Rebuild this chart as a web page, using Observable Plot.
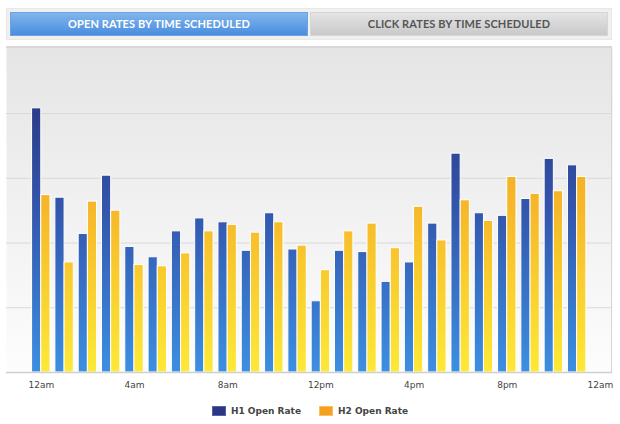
<!DOCTYPE html>
<html>
<head>
<meta charset="utf-8">
<script src="https://cdn.jsdelivr.net/npm/d3@7"></script>
<script src="https://cdn.jsdelivr.net/npm/@observablehq/plot@0.6"></script>
<style>
  html, body { margin: 0; padding: 0; background: #fff; }
  body { width: 620px; height: 424px; position: relative; overflow: hidden; font-family: "DejaVu Sans", sans-serif; }
  .tabbar { position: absolute; left: 6px; top: 8px; width: 604px; height: 30px; background: #f0f0f0; border: 1px solid #e8e8e8; }
  .tab { position: absolute; top: 12px; height: 24px; width: 298px; box-sizing: border-box; font-family: Lato, sans-serif; font-weight: 700; font-size: 11px; letter-spacing: 0.1px; line-height: 22px; text-align: center; }
  .tab.on { left: 10px; color: #fff; background: linear-gradient(#80b6ec, #4a8cdf); border: 1px solid #6aa2e4; }
  .tab.off { left: 310px; color: #555; background: linear-gradient(#e4e4e4, #c9c9c9); border: 1px solid #d6d6d6; }
  #chart { position: absolute; left: 0; top: 40px; }
  .legend { position: absolute; top: 406px; left: 0; width: 620px; display: flex; justify-content: center; gap: 18px; font-family: "DejaVu Sans", sans-serif; font-weight: bold; font-size: 9px; color: #444; }
  .legend span { display: flex; align-items: center; gap: 5px; }
  .legend i { display: inline-block; width: 12px; height: 8px; }
</style>
</head>
<body>
<div class="tabbar"></div>
<div class="tab on">OPEN RATES BY TIME SCHEDULED</div>
<div class="tab off">CLICK RATES BY TIME SCHEDULED</div>
<div id="chart"></div>
<div class="legend" id="legend"></div>
<script>
// Categories: hour of day scheduled (0 = 12am)
const hours = d3.range(0, 25);
const tickHours = [0, 4, 8, 12, 16, 20, 24];
const tickLabels = ["12am", "4am", "8am", "12pm", "4pm", "8pm", "12am"];
const seriesNames = ["H1 Open Rate", "H2 Open Rate"];
// Open rate (%) per hour
const h1Open = [20.4, 13.5, 10.7, 15.2, 9.7, 8.9, 10.9, 11.9, 11.6, 9.4, 12.3, 9.5, 5.5, 9.4, 9.3, 7.0, 8.5, 11.5, 16.9, 12.3, 12.1, 13.4, 16.5, 16.0];
const h2Open = [13.7, 8.5, 13.2, 12.5, 8.3, 8.2, 9.2, 10.9, 11.4, 10.8, 11.6, 9.8, 7.9, 10.9, 11.5, 9.6, 12.8, 10.2, 13.3, 11.7, 15.1, 13.8, 14.0, 15.1];
const yTicks = [5, 10, 15, 20];

const h1 = h1Open.map((v, i) => ({hour: i, value: v}));
const h2 = h2Open.map((v, i) => ({hour: i, value: v}));

const W = 620, H = 360, mL = 6, mR = 8, mT = 7, mB = 28;
const padIn = 0.21, padOut = 0.61;
const step = (W - mL - mR) / (hours.length - padIn + 2 * padOut);
const half = step * (1 - padIn) / 2;

const chart = Plot.plot({
  width: W, height: H,
  marginLeft: mL, marginRight: mR, marginTop: mT, marginBottom: mB,
  x: {type: "band", domain: hours, paddingInner: padIn, paddingOuter: padOut, align: 0.9, round: false, axis: null, label: null},
  y: {domain: [0, 25.1], axis: null},
  marks: [
    Plot.frame({fill: "url(#bgGrad)", stroke: null}),
    Plot.ruleY(yTicks, {stroke: "#d9d9d9", strokeWidth: 1}),
    Plot.barY(h1, {x: "hour", y: "value", fill: "url(#blueGrad)", stroke: "#fff", strokeWidth: 1, insetRight: half}),
    Plot.barY(h2, {x: "hour", y: "value", fill: "url(#orangeGrad)", stroke: "#fff", strokeWidth: 1, insetLeft: half}),
    Plot.ruleY([0], {stroke: "#cfcfcf", strokeWidth: 1.5}),
    Plot.axisX({ticks: tickHours, tickFormat: d => tickLabels[tickHours.indexOf(d)], tickSize: 0, tickPadding: 9, fontSize: 9, fill: "#444", fontFamily: "DejaVu Sans", label: null})
  ]
});

// gradients spanning the whole plot area
const ns = "http://www.w3.org/2000/svg";
const defs = document.createElementNS(ns, "defs");
function grad(id, stops) {
  const g = document.createElementNS(ns, "linearGradient");
  g.setAttribute("id", id);
  g.setAttribute("gradientUnits", "userSpaceOnUse");
  g.setAttribute("x1", 0); g.setAttribute("x2", 0);
  g.setAttribute("y1", mT); g.setAttribute("y2", H - mB);
  for (const [o, c] of stops) {
    const s = document.createElementNS(ns, "stop");
    s.setAttribute("offset", o); s.setAttribute("stop-color", c);
    g.appendChild(s);
  }
  defs.appendChild(g);
}
grad("bgGrad", [[0, "#e5e5e5"], [1, "#fdfdfd"]]);
grad("blueGrad", [[0, "#262d73"], [0.5, "#3356ad"], [1, "#3c8fe2"]]);
grad("orangeGrad", [[0, "#f09a1c"], [0.5, "#f6b82a"], [1, "#fde936"]]);
chart.insertBefore(defs, chart.firstChild);

// borders of the plot area (top and right)
const topBorder = document.createElementNS(ns, "rect");
chart.appendChild(topBorder);
topBorder.setAttribute("x", mL); topBorder.setAttribute("y", mT - 1);
topBorder.setAttribute("width", W - mL - mR); topBorder.setAttribute("height", 2);
topBorder.setAttribute("fill", "#d8d8d8");
const rightBorder = document.createElementNS(ns, "rect");
chart.appendChild(rightBorder);
rightBorder.setAttribute("x", W - mR - 1); rightBorder.setAttribute("y", mT);
rightBorder.setAttribute("width", 1); rightBorder.setAttribute("height", H - mT - mB);
rightBorder.setAttribute("fill", "#d6d6d6");

document.getElementById("chart").appendChild(chart);

const lg = document.getElementById("legend");
const lcolors = [["#2e3585", "#5560a8"], ["#f5a020", "#f8c060"]];
seriesNames.forEach((n, i) => {
  const s = document.createElement("span");
  s.innerHTML = `<i style="background:${lcolors[i][0]};border:1px solid ${lcolors[i][1]}"></i>${n}`;
  lg.appendChild(s);
});
</script>
</body>
</html>
